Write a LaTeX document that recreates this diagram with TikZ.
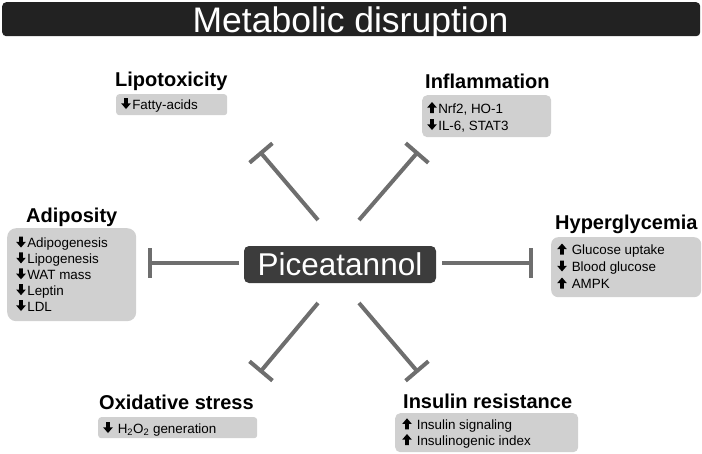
\documentclass[tikz,border=0pt]{standalone}
\usepackage{fontspec}
\setmainfont{Liberation Sans}
\usetikzlibrary{calc}
\definecolor{barblack}{HTML}{222222}
\definecolor{centergray}{HTML}{3C3C3C}
\definecolor{linegray}{HTML}{6E6E6E}
\definecolor{boxgray}{HTML}{D0D0D0}
\newcommand{\dnar}{\tikz[x=1pt,y=1pt,baseline=0pt]\fill[black] (-1.9,11)--(1.9,11)--(1.9,5.6)--(4.8,5.6)--(0,0)--(-4.8,5.6)--(-1.9,5.6)--cycle;}
\newcommand{\upar}{\tikz[x=1pt,y=1pt,baseline=0pt]\fill[black] (-1.9,0)--(1.9,0)--(1.9,5.4)--(4.8,5.4)--(0,11)--(-4.8,5.4)--(-1.9,5.4)--cycle;}
\begin{document}
\begin{tikzpicture}[x=1pt,y=-1pt,
  graybox/.style={fill=boxgray, draw=none, inner sep=0pt, anchor=north west},
  heading/.style={inner sep=0pt, anchor=base west, font=\fontsize{20}{24}\selectfont\bfseries},
  item/.style={inner sep=0pt, anchor=base west, font=\fontsize{13.4}{16}\selectfont},
  inhib/.style={draw=linegray, line width=4pt},
]
\useasboundingbox (0,0) rectangle (702,453);
% title bar
\node[fill=barblack, rounded corners=4pt, minimum width=698pt, minimum height=34pt, inner sep=0pt, anchor=north west] (title) at (2,2) {};
\node[inner sep=0pt, anchor=base, text=white, font=\fontsize{35.5}{40}\selectfont] (titletext) at (350.5,32) {Metabolic disruption};
% center
\node[fill=centergray, rounded corners=5pt, minimum width=192pt, minimum height=37pt, inner sep=0pt, text=white, font=\fontsize{31.5}{36}\selectfont] (pic) at (340,264.5) {Piceatannol};
% connectors
\coordinate (sL) at (239,263); \coordinate (eL) at (150,263);
\coordinate (sR) at (442,263); \coordinate (eR) at (531,263);
\coordinate (sUL) at (318,220); \coordinate (eUL) at (261,153);
\coordinate (sUR) at (359,220); \coordinate (eUR) at (417,153);
\coordinate (sLL) at (318,303); \coordinate (eLL) at (261,371);
\coordinate (sLR) at (359,303); \coordinate (eLR) at (417,371);
\foreach \k in {L,R,UL,UR,LL,LR}{
  \draw[inhib] (s\k) -- (e\k);
  \draw[inhib] ($(e\k)!15pt!90:(s\k)$) -- ($(e\k)!15pt!-90:(s\k)$);
}
% Lipotoxicity
\node[heading] (lipoT) at (115,86) {Lipotoxicity};
\node[graybox, rounded corners=3pt, minimum width=111pt, minimum height=21pt] (lipoB) at (116,94) {};
\node[item] (lipo1) at (121,109) {\dnar\hspace{1.5pt}Fatty-acids};
% Inflammation
\node[heading] (inflT) at (425,88) {Inflammation};
\node[graybox, rounded corners=5pt, minimum width=129pt, minimum height=42pt] (inflB) at (422,95) {};
\node[item] (infl1) at (427,113) {\upar\hspace{1.5pt}Nrf2, HO-1};
\node[item] (infl2) at (427,130) {\dnar\hspace{1.5pt}IL-6, STAT3};
% Adiposity
\node[heading] (adipT) at (26,222) {Adiposity};
\node[graybox, rounded corners=9pt, minimum width=129pt, minimum height=93pt] (adipB) at (7,228) {};
\node[item] (adip1) at (16,247.5) {\dnar\hspace{1.5pt}Adipogenesis};
\node[item] (adip2) at (16,263.4) {\dnar\hspace{1.5pt}Lipogenesis};
\node[item] (adip3) at (16,279.3) {\dnar\hspace{1.5pt}WAT mass};
\node[item] (adip4) at (16,295.2) {\dnar\hspace{1.5pt}Leptin};
\node[item] (adip5) at (16,311) {\dnar\hspace{1.5pt}LDL};
% Hyperglycemia
\node[heading] (hypT) at (555,229) {Hyperglycemia};
\node[graybox, rounded corners=7pt, minimum width=150pt, minimum height=60pt] (hypB) at (551,237) {};
\node[item] (hyp1) at (557,254.5) {\upar\hspace{5pt}Glucose uptake};
\node[item] (hyp2) at (557,271.5) {\dnar\hspace{5pt}Blood glucose};
\node[item] (hyp3) at (557,288.5) {\upar\hspace{5pt}AMPK};
% Oxidative stress
\node[heading] (oxT) at (99,409) {Oxidative stress};
\node[graybox, rounded corners=3pt, minimum width=159pt, minimum height=21pt] (oxB) at (98,417) {};
\node[item] (ox1) at (103,433) {\dnar\hspace{5pt}H\textsubscript{2}O\textsubscript{2} generation};
% Insulin resistance
\node[heading] (insT) at (403,408) {Insulin resistance};
\node[graybox, rounded corners=5pt, minimum width=183pt, minimum height=39pt] (insB) at (395,413) {};
\node[item] (ins1) at (402,429.3) {\upar\hspace{5pt}Insulin signaling};
\node[item] (ins2) at (402,445) {\upar\hspace{5pt}Insulinogenic index};
\end{tikzpicture}
\end{document}
